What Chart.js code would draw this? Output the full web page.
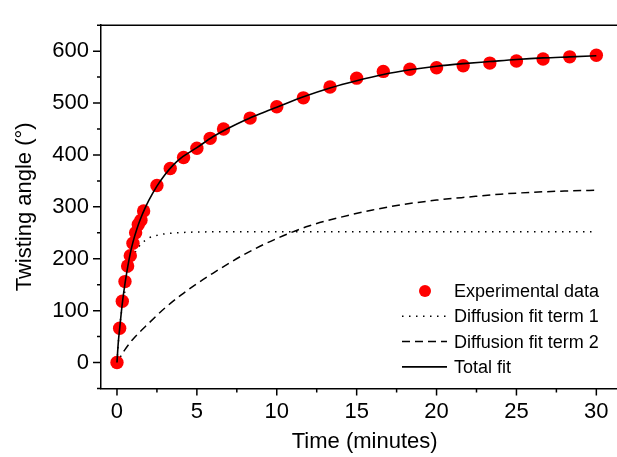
<!DOCTYPE html>
<html>
<head>
<meta charset="utf-8">
<script src="https://cdn.jsdelivr.net/npm/chart.js@4.4.1/dist/chart.umd.min.js"></script>
<style>
  html, body { margin: 0; padding: 0; overflow: hidden; background: #fff; }
  #wrap { width: 635px; height: 457px; }
</style>
</head>
<body>
<div id="wrap"><canvas id="chart" width="635" height="457"></canvas></div>
<script>
// Experimental data (time in minutes, angle in degrees)
const expTime = [0, 0.167, 0.333, 0.5, 0.667, 0.833, 1.0, 1.167, 1.333, 1.5, 1.667,
    2.5, 3.333, 4.167, 5, 5.833, 6.667, 8.333, 10, 11.667, 13.333, 15, 16.667, 18.333,
    20, 21.667, 23.333, 25, 26.667, 28.333, 30];
const expAngle = [0, 66, 118, 156, 186, 206, 230, 250, 266, 274, 292,
    341, 374, 395, 413, 432, 450, 471, 493, 510, 531, 548, 561, 565,
    568, 572, 577, 581, 585, 589, 592];

// Diffusion fit term 1 (dotted)
const term1Time = [0, 0.1, 0.25, 0.5, 0.75, 1, 1.25, 1.5, 2, 2.5, 3, 4, 5, 7, 10, 15, 20, 25, 30];
const term1Angle = [0, 45, 90, 138, 176, 203, 218, 228, 240, 245, 248, 250.5, 251.5, 252, 252, 252, 252, 252, 252];

// Diffusion fit term 2 (dashed)
const term2Time = [0, 0.5, 1, 2, 3, 4, 5, 6, 7, 8, 10, 12, 14, 16, 18, 20, 22, 24, 26, 28, 30];
const term2Angle = [0, 25, 45, 76, 105, 130, 152, 172, 191, 209, 239, 263, 280, 294, 305, 313, 319, 324.5, 328, 330.5, 332];

// Total fit (solid)
const totalTime = [0, 0.08, 0.17, 0.33, 0.5, 0.67, 0.83, 1, 1.25, 1.5, 1.75, 2, 2.5, 3, 3.5, 4,
    5, 6, 7, 8, 9, 10, 11.67, 13.33, 15, 16.67, 18.33, 20, 21.67, 23.33, 25, 26.67, 28.33, 30];
const totalAngle = [0, 38, 66, 113, 152, 184, 210, 232, 258, 279, 297, 313, 340, 362, 380, 394,
    414, 435, 452, 467, 480, 492, 512, 529, 543, 555, 564, 571, 576, 580, 584, 587, 589, 591];

// Axis ticks
const xMajorTicks = [0, 5, 10, 15, 20, 25, 30];
const xMinorTicks = [2.5, 7.5, 12.5, 17.5, 22.5, 27.5];
const yMajorTicks = [0, 100, 200, 300, 400, 500, 600];
const yMinorTicks = [-50, 50, 150, 250, 350, 450, 550, 650];

const legendLabels = ['Experimental data', 'Diffusion fit term 1', 'Diffusion fit term 2', 'Total fit'];

const FONT = "'Liberation Sans', Arial, sans-serif";
Chart.defaults.font.family = FONT;
Chart.defaults.color = '#000';

function toPoints(xs, ys) {
    return xs.map((x, i) => ({ x: x, y: ys[i] }));
}

// outward major/minor tick marks plus the top frame line
const tickMarks = {
    id: 'tickMarks',
    afterDraw(chart) {
        const ctx = chart.ctx;
        const xs = chart.scales.x, ys = chart.scales.y;
        const a = chart.chartArea;
        ctx.save();
        ctx.strokeStyle = '#000';
        ctx.lineWidth = 1.5;
        ctx.beginPath();
        xMajorTicks.forEach(v => { const p = xs.getPixelForValue(v); ctx.moveTo(p, a.bottom); ctx.lineTo(p, a.bottom + 7); });
        xMinorTicks.forEach(v => { const p = xs.getPixelForValue(v); ctx.moveTo(p, a.bottom); ctx.lineTo(p, a.bottom + 4); });
        yMajorTicks.forEach(v => { const p = ys.getPixelForValue(v); ctx.moveTo(a.left, p); ctx.lineTo(a.left - 8, p); });
        yMinorTicks.forEach(v => { const p = ys.getPixelForValue(v); ctx.moveTo(a.left, p); ctx.lineTo(a.left - 4, p); });
        ctx.moveTo(a.left, a.top);
        ctx.lineTo(a.right, a.top);
        ctx.stroke();
        ctx.restore();
    }
};

// legend box inside the plot, lower right
const innerLegend = {
    id: 'innerLegend',
    afterDraw(chart) {
        const ctx = chart.ctx;
        const x0 = 402, x1 = 447, tx = 454, y0 = 291, dy = 25.3;
        ctx.save();
        ctx.font = '18px ' + FONT;
        ctx.textBaseline = 'middle';
        ctx.fillStyle = '#000';
        legendLabels.forEach((lab, i) => {
            const y = y0 + i * dy;
            const ds = chart.data.datasets[i];
            if (i === 0) {
                ctx.fillStyle = ds.backgroundColor;
                ctx.beginPath();
                ctx.arc(425, y, 6, 0, Math.PI * 2);
                ctx.fill();
            } else {
                ctx.strokeStyle = '#000';
                ctx.lineWidth = ds.borderWidth;
                ctx.setLineDash(ds.borderDash || []);
                ctx.beginPath();
                ctx.moveTo(x0, y);
                ctx.lineTo(x1, y);
                ctx.stroke();
                ctx.setLineDash([]);
            }
            ctx.fillStyle = '#000';
            ctx.fillText(lab, tx, y + 1);
        });
        ctx.restore();
    }
};

new Chart(document.getElementById('chart'), {
    type: 'scatter',
    data: {
        datasets: [
            {
                label: legendLabels[0],
                data: toPoints(expTime, expAngle),
                backgroundColor: '#ff0000',
                borderWidth: 0,
                pointRadius: 6.7,
                order: 1
            },
            {
                label: legendLabels[1],
                data: toPoints(term1Time, term1Angle),
                showLine: true,
                borderColor: '#000',
                borderWidth: 1.5,
                borderDash: [1.5, 5.5],
                pointRadius: 0,
                cubicInterpolationMode: 'monotone',
                order: 3
            },
            {
                label: legendLabels[2],
                data: toPoints(term2Time, term2Angle),
                showLine: true,
                borderColor: '#000',
                borderWidth: 1.5,
                borderDash: [8, 5],
                pointRadius: 0,
                cubicInterpolationMode: 'monotone',
                order: 2
            },
            {
                label: legendLabels[3],
                data: toPoints(totalTime, totalAngle),
                showLine: true,
                borderColor: '#000',
                borderWidth: 1.6,
                pointRadius: 0,
                cubicInterpolationMode: 'monotone',
                order: 0
            }
        ]
    },
    options: {
        responsive: false,
        animation: false,
        layout: { padding: { top: 8, left: 0, right: 0, bottom: 0 } },
        plugins: {
            legend: { display: false },
            tooltip: { enabled: false }
        },
        scales: {
            x: {
                type: 'linear',
                min: -1,
                max: 32,
                afterBuildTicks: s => { s.ticks = xMajorTicks.map(v => ({ value: v })); },
                afterFit: s => { s.height = 68.5; },
                grid: { display: false, drawTicks: false },
                border: { display: true, color: '#000', width: 1.5 },
                ticks: { color: '#000', font: { size: 22 }, padding: 10, maxRotation: 0 },
                title: { display: true, text: 'Time (minutes)', color: '#000', font: { size: 22 }, padding: { top: 0, bottom: 2 } }
            },
            y: {
                type: 'linear',
                min: -50,
                max: 650,
                afterBuildTicks: s => { s.ticks = yMajorTicks.map(v => ({ value: v })); },
                afterFit: s => { s.width = 101; },
                grid: { display: false, drawTicks: false },
                border: { display: true, color: '#000', width: 1.5 },
                ticks: { color: '#000', font: { size: 22 }, padding: 12 },
                title: { display: true, text: 'Twisting angle (°)', color: '#000', font: { size: 22 }, padding: { top: 12, bottom: 0 } }
            }
        }
    },
    plugins: [tickMarks, innerLegend]
});
</script>
</body>
</html>
